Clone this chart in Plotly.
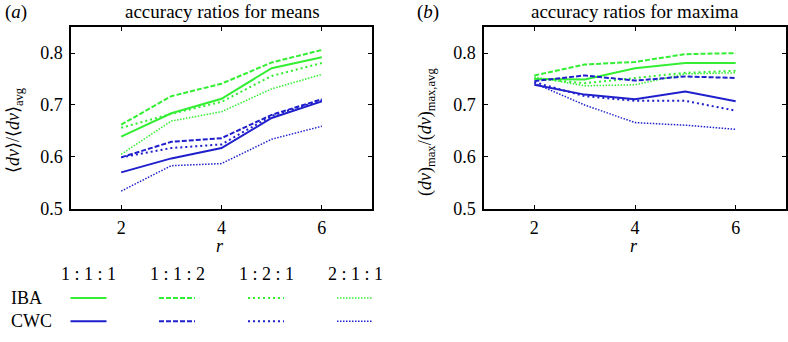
import plotly.graph_objects as go

W, H = 788, 342

r_vals = [2, 3, 4, 5, 6]
ratios = ["1 : 1 : 1", "1 : 1 : 2", "1 : 2 : 1", "2 : 1 : 1"]

# panel (a): accuracy ratios for means
iba_means = {
    "1 : 1 : 1": [0.639, 0.684, 0.712, 0.771, 0.792],
    "1 : 1 : 2": [0.662, 0.717, 0.741, 0.782, 0.806],
    "1 : 2 : 1": [0.656, 0.683, 0.706, 0.756, 0.781],
    "2 : 1 : 1": [0.605, 0.669, 0.687, 0.731, 0.759],
}
cwc_means = {
    "1 : 1 : 1": [0.570, 0.597, 0.617, 0.675, 0.707],
    "1 : 1 : 2": [0.599, 0.629, 0.636, 0.681, 0.711],
    "1 : 2 : 1": [0.599, 0.617, 0.624, 0.679, 0.709],
    "2 : 1 : 1": [0.534, 0.583, 0.587, 0.634, 0.659],
}
# panel (b): accuracy ratios for maxima
iba_max = {
    "1 : 1 : 1": [0.750, 0.749, 0.771, 0.781, 0.781],
    "1 : 1 : 2": [0.757, 0.778, 0.783, 0.798, 0.800],
    "1 : 2 : 1": [0.751, 0.742, 0.752, 0.762, 0.766],
    "2 : 1 : 1": [0.754, 0.737, 0.739, 0.760, 0.762],
}
cwc_max = {
    "1 : 1 : 1": [0.739, 0.720, 0.711, 0.726, 0.707],
    "1 : 1 : 2": [0.746, 0.757, 0.747, 0.755, 0.752],
    "1 : 2 : 1": [0.744, 0.717, 0.708, 0.708, 0.689],
    "2 : 1 : 1": [0.742, 0.700, 0.666, 0.661, 0.653],
}

GREEN = "#33ee33"
BLUE = "#1f1fcc"
dashes = {"1 : 1 : 1": "solid", "1 : 1 : 2": "5px,2px", "1 : 2 : 1": "2px,3px", "2 : 1 : 1": "1.5px,1.5px"}
widths = {"1 : 1 : 1": 2, "1 : 1 : 2": 2, "1 : 2 : 1": 2, "2 : 1 : 1": 1.5}

FONT = "Liberation Serif"
fig = go.Figure()

for (xa, ya, iba, cwc) in [("x", "y", iba_means, cwc_means), ("x2", "y2", iba_max, cwc_max)]:
    for series, col in [(iba, GREEN), (cwc, BLUE)]:
        for k in ratios:
            fig.add_trace(go.Scatter(x=r_vals, y=series[k], mode="lines", xaxis=xa, yaxis=ya,
                                     line=dict(color=col, width=widths[k], dash=dashes[k]),
                                     showlegend=False, hoverinfo="skip"))

def px(x):
    return x / W

def py(y):
    return 1 - y / H

# legend swatches drawn as traces on an overlay pixel-space axis
col_centers = [88.5, 177, 266, 355]
for i, k in enumerate(ratios):
    cx = col_centers[i]
    for yy, col in [(307, GREEN), (331, BLUE)]:
        fig.add_trace(go.Scatter(x=[cx - 18, cx + 18], y=[yy, yy], mode="lines", xaxis="x3", yaxis="y3",
                                 line=dict(color=col, width=widths[k], dash=dashes[k]),
                                 showlegend=False, hoverinfo="skip"))

axis_common = dict(showline=True, linecolor="black", linewidth=1.5, mirror="ticks",
                   ticks="inside", ticklen=4, tickcolor="black", showgrid=False, zeroline=False,
                   tickfont=dict(family=FONT, size=18, color="black"))

fig.update_layout(
    width=W, height=H, margin=dict(l=0, r=0, t=0, b=0),
    paper_bgcolor="white", plot_bgcolor="rgba(0,0,0,0)",
    font=dict(family=FONT, color="black"),
    xaxis=dict(domain=[px(71), px(372)], range=[1, 7], tickvals=[2, 4, 6], anchor="y",
               ticklabelstandoff=2, **axis_common),
    yaxis=dict(domain=[py(215), py(28)], range=[0.5, 0.85], tickvals=[0.5, 0.6, 0.7, 0.8],
               tickformat=".1f", anchor="x", ticklabelstandoff=3, **axis_common),
    xaxis2=dict(domain=[px(484), px(786)], range=[1, 7], tickvals=[2, 4, 6], anchor="y2",
                ticklabelstandoff=2, **axis_common),
    yaxis2=dict(domain=[py(215), py(28)], range=[0.5, 0.85], tickvals=[0.5, 0.6, 0.7, 0.8],
                tickformat=".1f", anchor="x2", ticklabelstandoff=3, **axis_common),
    xaxis3=dict(domain=[0, 1], range=[0, W], visible=False, anchor="y3", fixedrange=True),
    yaxis3=dict(domain=[0, 1], range=[H, 0], visible=False, anchor="x3", fixedrange=True),
)

ann = []
def text(x, y, s, size=18, angle=0, xanchor="center"):
    ann.append(dict(x=px(x), y=py(y), xref="paper", yref="paper", text=s, showarrow=False,
                    xanchor=xanchor, yanchor="middle", textangle=angle,
                    font=dict(family=FONT, size=size, color="black")))

text(3, 12, "(<i>a</i>)", size=19, xanchor="left")
text(415, 12, "(<i>b</i>)", size=19, xanchor="left")
text(222, 12, "accuracy ratios for means", size=19)
text(635, 12, "accuracy ratios for maxima", size=19)
text(220, 253, "<i>r</i>", size=18)
text(634, 253, "<i>r</i>", size=18)
text(14, 134, "⟨<i>dv</i>⟩/⟨<i>dv</i>⟩<sub>avg</sub>", size=18, angle=-90)
text(426, 136, "(<i>dv</i>)<sub>max</sub>/(<i>dv</i>)<sub>max,avg</sub>", size=18, angle=-90)

text(9, 307, "IBA", size=18, xanchor="left")
text(9, 331, "CWC", size=18, xanchor="left")
for i, k in enumerate(ratios):
    text(col_centers[i], 282, k, size=18)

fig.update_layout(annotations=ann)
fig.write_html("out.html")
